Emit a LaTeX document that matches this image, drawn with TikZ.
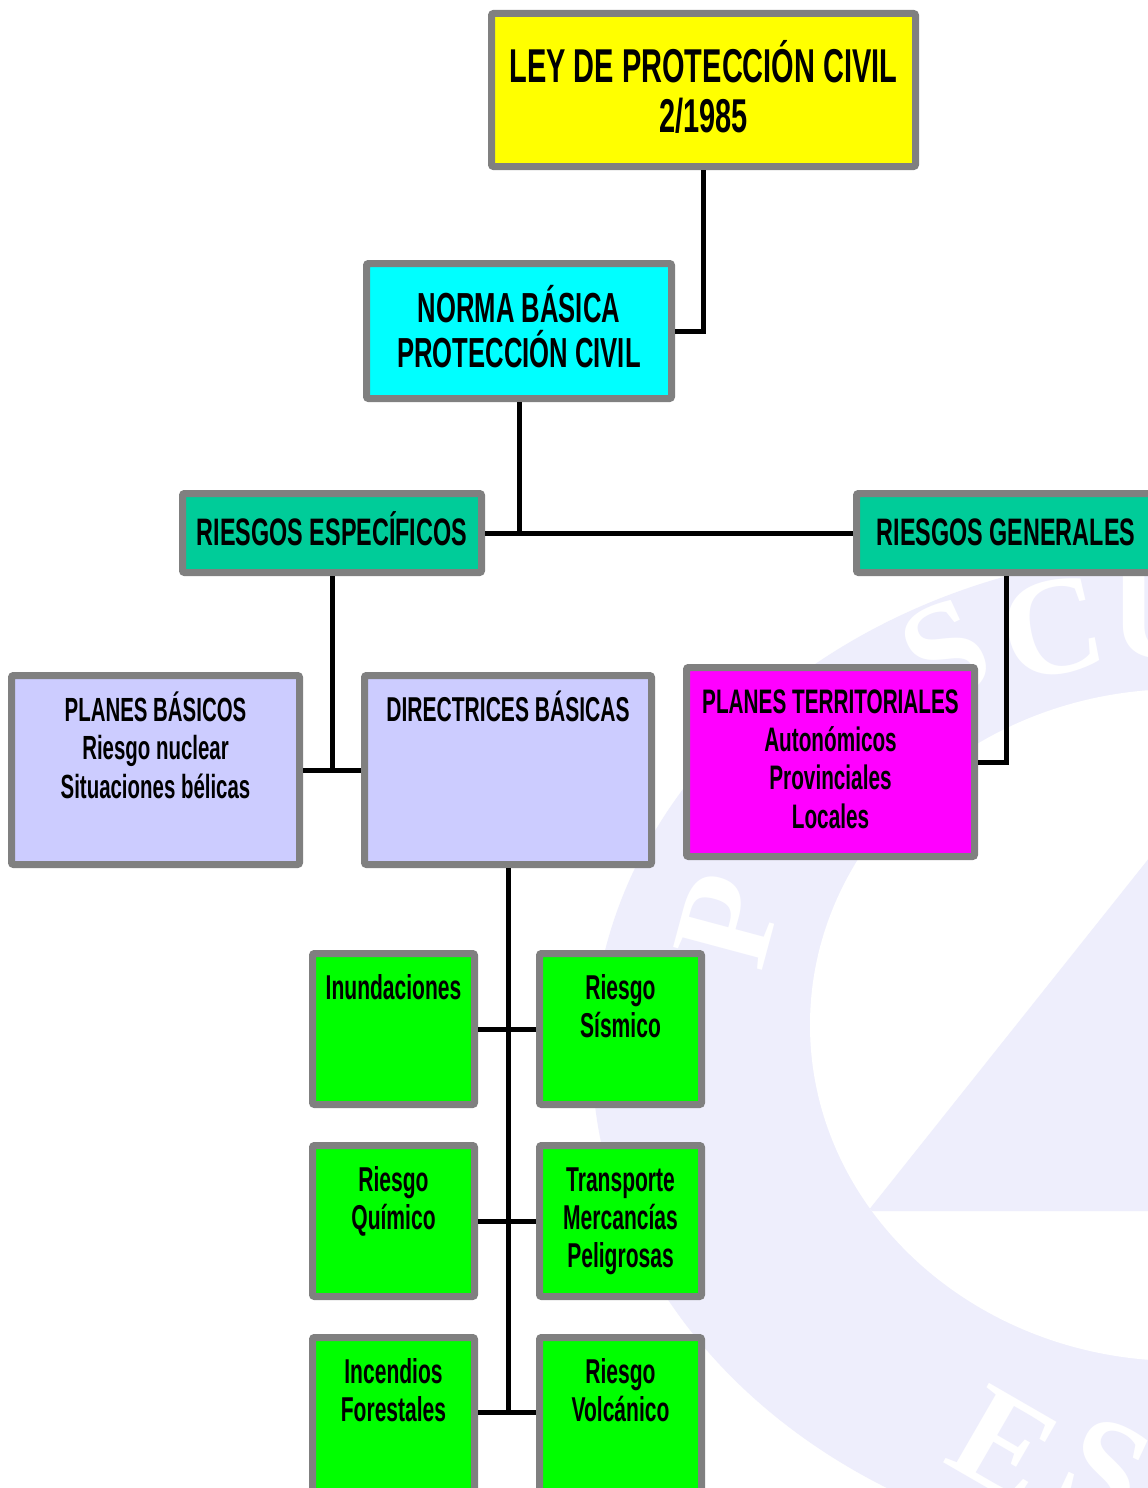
\documentclass[tikz,border=0pt]{standalone}
\usepackage{fontspec}
\setmainfont{Liberation Sans}[FakeStretch=0.61]
\newfontfamily\wmfont{Liberation Serif}
\definecolor{bgray}{HTML}{808080}
\definecolor{cyel}{HTML}{FFFF00}
\definecolor{ccyan}{HTML}{00FFFF}
\definecolor{cteal}{HTML}{00CC99}
\definecolor{clav}{HTML}{CCCCFF}
\definecolor{cmag}{HTML}{FF00FF}
\definecolor{cgreen}{HTML}{00FF00}
\definecolor{wm}{HTML}{EEEEFC}
\begin{document}
\begin{tikzpicture}[x=1pt,y=-1pt,
  box/.style={draw=bgray, line width=7pt, inner sep=0pt, rounded corners=2pt},
  txt/.style={anchor=base, align=center, inner sep=0pt, text=black},
  conn/.style={draw=black, line width=5pt},
  wmletter/.style={text=white, inner sep=0pt, font=\wmfont\bfseries\fontsize{140}{140}\selectfont}]
\useasboundingbox (0,0) rectangle (1148,1488);
\fill[white] (0,0) rectangle (1148,1488);
% watermark
\begin{scope}
  \clip (0,0) rectangle (1148,1488);
  \fill[wm] (1200,1055) ellipse [x radius=608, y radius=505];
  \fill[white] (1180,1025) ellipse [x radius=370, y radius=336];
  \begin{scope}
    \clip (1180,1025) ellipse [x radius=370, y radius=336];
    \fill[wm] (868,1211) -- (1275,700) -- (1650,1211) -- cycle;
  \end{scope}
  \node[wmletter, rotate=75] (wmp) at (728,920) {P};
  \node[wmletter, rotate=25] (wms) at (945,652) {S};
  \node[wmletter, rotate=12] (wmc) at (1052,628) {C};
  \node[wmletter, rotate=0] (wmu) at (1160,612) {U};
  \node[wmletter, rotate=-30] (wme) at (1005,1445) {E};
  \node[wmletter, rotate=-25] (wms2) at (1105,1470) {S};
\end{scope}
% boxes
\node[box, fill=cyel, minimum width=424, minimum height=153] (ley) at (703.5,90) {};
\node[box, fill=ccyan, minimum width=305, minimum height=135] (norma) at (519,331) {};
\node[box, fill=cteal, minimum width=299, minimum height=79] (resp) at (332,533) {};
\node[box, fill=cteal, minimum width=299, minimum height=79] (rgen) at (1006,533) {};
\node[box, fill=clav, minimum width=288, minimum height=189] (pbas) at (155.5,770) {};
\node[box, fill=clav, minimum width=287, minimum height=189] (dbas) at (508,770) {};
\node[box, fill=cmag, minimum width=288, minimum height=189] (pterr) at (830.5,762) {};
\node[box, fill=cgreen, minimum width=162, minimum height=151] (g1) at (393.5,1029) {};
\node[box, fill=cgreen, minimum width=162, minimum height=151] (g2) at (620.5,1029) {};
\node[box, fill=cgreen, minimum width=162, minimum height=151] (g3) at (393.5,1221) {};
\node[box, fill=cgreen, minimum width=162, minimum height=151] (g4) at (620.5,1221) {};
\node[box, fill=cgreen, minimum width=162, minimum height=163] (g5) at (393.5,1419) {};
\node[box, fill=cgreen, minimum width=162, minimum height=163] (g6) at (620.5,1419) {};
\coordinate (j3) at (508,1412);
% connectors
\draw[conn] (ley.south) |- (norma.east);
\draw[conn] (resp.east) -- (rgen.west);
\draw[conn] (norma.south) -- (norma.south |- resp.east);
\draw[conn] (resp.south) -- (resp.south |- pbas.east);
\draw[conn] (pbas.east) -- (dbas.west);
\draw[conn] (rgen.south) |- (pterr.east);
\draw[conn] (dbas.south) -- (dbas.south |- j3);
\draw[conn] (g1.east) -- (g2.west);
\draw[conn] (g3.east) -- (g4.west);
\draw[conn] (g5.east |- j3) -- (g6.west |- j3);
% texts (anchor base = baseline of the last line)
\node[txt, font=\bfseries\fontsize{47.5}{50}\selectfont] (tley) at (703.5,132) {LEY DE PROTECCIÓN CIVIL\\2/1985};
\node[txt, font=\bfseries\fontsize{42}{45}\selectfont] (tnorma) at (519,367) {NORMA BÁSICA\\PROTECCIÓN CIVIL};
\node[txt, font=\bfseries\fontsize{38.3}{40}\selectfont] (tresp) at (332,545) {RIESGOS ESPECÍFICOS};
\node[txt, font=\bfseries\fontsize{38.3}{40}\selectfont] (trgen) at (1006,545) {RIESGOS GENERALES};
\node[txt, font=\bfseries\fontsize{33.5}{38.5}\selectfont] (tpbas) at (155.5,798) {PLANES BÁSICOS\\Riesgo nuclear\\Situaciones bélicas};
\node[txt, font=\bfseries\fontsize{34.5}{38.5}\selectfont] (tdbas) at (508,721) {DIRECTRICES BÁSICAS};
\node[txt, font=\bfseries\fontsize{34}{38.3}\selectfont] (tpterr) at (830.5,828) {PLANES TERRITORIALES\\Autonómicos\\Provinciales\\Locales};
\node[txt, font=\bfseries\fontsize{34.5}{38}\selectfont] (tg1) at (393.5,999) {Inundaciones};
\node[txt, font=\bfseries\fontsize{34.5}{38}\selectfont] (tg2) at (620.5,1037) {Riesgo\\Sísmico};
\node[txt, font=\bfseries\fontsize{34.5}{38}\selectfont] (tg3) at (393.5,1229) {Riesgo\\Químico};
\node[txt, font=\bfseries\fontsize{34.5}{38}\selectfont] (tg4) at (620.5,1267) {Transporte\\Mercancías\\Peligrosas};
\node[txt, font=\bfseries\fontsize{34.5}{38}\selectfont] (tg5) at (393.5,1421) {Incendios\\Forestales};
\node[txt, font=\bfseries\fontsize{34.5}{38}\selectfont] (tg6) at (620.5,1421) {Riesgo\\Volcánico};
\end{tikzpicture}
\end{document}
